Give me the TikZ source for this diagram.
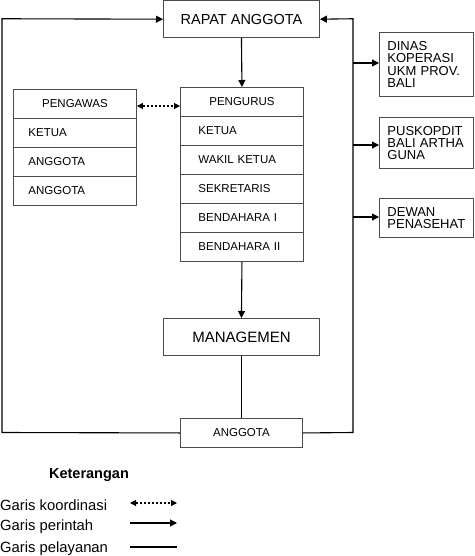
\documentclass[tikz,border=0pt]{standalone}
\usepackage{fontspec}
\setmainfont{Liberation Sans}
\usetikzlibrary{arrows.meta}
\begin{document}
\begin{tikzpicture}[x=1pt,y=-1pt,
  bx/.style={draw=black!70, line width=0.9pt, inner ysep=0pt},
  pwrow/.style={bx, anchor=north west, minimum height=29pt, inner xsep=15pt, text width=93pt, align=left, font=\fontsize{11.5}{13}\selectfont},
  pgrow/.style={bx, anchor=north west, minimum height=29pt, inner xsep=18pt, text width=87pt, align=left, font=\fontsize{11.5}{13}\selectfont},
  rbox/.style={bx, anchor=north west, inner xsep=8pt, text width=78pt, align=left, font=\fontsize{13}{12.4}\selectfont},
  ln/.style={line width=1.1pt, black},
  arr/.style={ln, -{Triangle[length=7pt,width=7pt]}},
  dasharr/.style={line width=1.1pt, dash pattern=on 2.5pt off 1.5pt, {Triangle[length=6pt,width=6pt]}-{Triangle[length=6pt,width=6pt]}},
  lgtext/.style={anchor=base west, inner sep=0pt, font=\fontsize{14.8}{16}\selectfont}
]
\useasboundingbox (0,0) rectangle (474,556);

% main boxes
\node[bx, anchor=north west, minimum width=156pt, minimum height=36.5pt, font=\fontsize{14.5}{16}\selectfont] (rapat) at (163,0.5) {RAPAT ANGGOTA};
\node[bx, anchor=north west, minimum width=156pt, minimum height=37pt, font=\fontsize{15}{16}\selectfont] (man) at (163,318) {MANAGEMEN};
\node[bx, anchor=north west, minimum width=122pt, minimum height=29pt, font=\fontsize{11.5}{13}\selectfont] (ang) at (180,418) {ANGGOTA};

% pengawas
\node[pwrow, align=center] (pw0) at (13,89) {PENGAWAS};
\node[pwrow] (pw1) at (13,118) {KETUA};
\node[pwrow] (pw2) at (13,147) {ANGGOTA};
\node[pwrow] (pw3) at (13,176) {ANGGOTA};

% pengurus
\node[pgrow, align=center] (pg0) at (180,87) {PENGURUS};
\node[pgrow] (pg1) at (180,116) {KETUA};
\node[pgrow] (pg2) at (180,145) {WAKIL KETUA};
\node[pgrow] (pg3) at (180,174) {SEKRETARIS};
\node[pgrow] (pg4) at (180,203) {BENDAHARA I};
\node[pgrow] (pg5) at (180,232) {BENDAHARA II};

% right boxes
\node[rbox, minimum height=64pt] (dinas) at (379,32) {DINAS\\KOPERASI\\UKM PROV.\\BALI};
\node[rbox, minimum height=51pt] (pusk) at (379,117) {PUSKOPDIT\\BALI ARTHA\\GUNA};
\node[rbox, minimum height=39pt] (dewan) at (379,198) {DEWAN\\PENASEHAT};

% frame coordinates
\coordinate (lt) at (2,18.75);
\coordinate (lb) at (2,432.5);
\coordinate (rt) at (353,18.75);
\coordinate (rb) at (353,432.5);
\coordinate (r1) at (353,63);
\coordinate (r2) at (353,145);
\coordinate (r3) at (353,217);
\coordinate (dy) at (0,106);

% connectors
\draw[arr] (ang.west) -- (lb) -- (lt) -- (rapat.west);
\draw[arr] (ang.east) -- (rb) -- (rt) -- (rapat.east);
\draw[arr] (r1) -- (r1 -| dinas.west);
\draw[arr] (r2) -- (r2 -| pusk.west);
\draw[arr] (r3) -- (r3 -| dewan.west);
\draw[arr] (rapat.south) -- (pg0.north);
\draw[arr] (pg5.south) -- (man.north);
\draw[ln] (man.south) -- (ang.north);
\draw[dasharr] (pw0.east |- dy) -- (pg0.west |- dy);

% legend
\node[anchor=base, inner sep=0pt, font=\bfseries\fontsize{14.5}{16}\selectfont] (ket) at (89,478) {Keterangan};
\node[lgtext] (l1) at (0,510) {Garis koordinasi};
\node[lgtext] (l2) at (0,530) {Garis perintah};
\node[lgtext] (l3) at (0,552) {Garis pelayanan};
\coordinate (a1) at (130,503);
\coordinate (b1) at (177,503);
\coordinate (a2) at (130,523);
\coordinate (b2) at (177,523);
\coordinate (a3) at (130,547);
\coordinate (b3) at (177,547);
\draw[dasharr] (a1) -- (b1);
\draw[arr] (a2) -- (b2);
\draw[ln] (a3) -- (b3);
\end{tikzpicture}
\end{document}
